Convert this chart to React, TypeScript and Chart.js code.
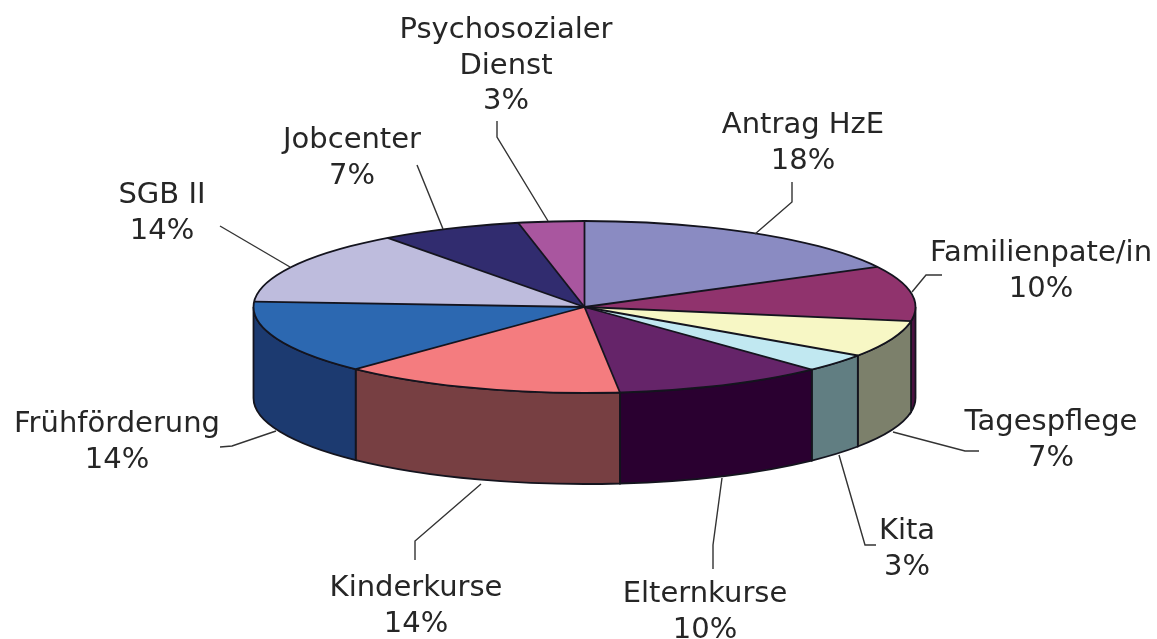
import React, { useEffect, useRef } from "react";
import { Chart, registerables } from "chart.js";

Chart.register(...registerables);

const categories = ["Antrag HzE", "Familienpate/in", "Tagespflege", "Kita", "Elternkurse", "Kinderkurse", "Frühförderung", "SGB II", "Jobcenter", "Psychosozialer Dienst"];
// Percentages printed beside the slices
const printedPercent = [18, 10, 7, 3, 10, 14, 14, 14, 7, 3];
const sliceShares = [17.2, 10.3, 6.9, 3.4, 10.3, 13.8, 13.8, 13.8, 6.9, 3.2];
const topColors = ["#8A8BC2", "#90336D", "#F7F7C5", "#C1E8F1", "#652469", "#F47C7F", "#2C68B1", "#BEBCDD", "#312C6F", "#A9569F"];
const wallColors = ["#45465F", "#4A1140", "#7C806B", "#617E82", "#2A0030", "#773F42", "#1C3A70", "#5F5E6E", "#181637", "#552B50"];

const labelLines = [["Antrag HzE"], ["Familienpate/in"], ["Tagespflege"], ["Kita"], ["Elternkurse"], ["Kinderkurse"], ["Frühförderung"], ["SGB II"], ["Jobcenter"], ["Psychosozialer", "Dienst"]];
// centre x and first-line baseline of each label
const labelAnchors = [[803, 133], [1041, 261], [1051, 430], [907, 539], [705, 602], [416, 596], [117, 432], [162, 203], [352, 148], [506, 38]];
const leaders = [
  [[792, 182], [792, 202], [755, 234]],
  [[942, 275], [926, 275], [912, 292]],
  [[893, 432], [965, 451], [979, 451]],
  [[839, 455], [865, 545], [876, 545]],
  [[722, 478], [713, 545], [713, 569]],
  [[481, 484], [415, 541], [415, 560]],
  [[276, 431], [232, 446], [220, 447]],
  [[290, 267], [220, 226]],
  [[417, 165], [443, 229]],
  [[497, 121], [497, 137], [548, 221]],
];

const CX = 584.5, CY = 307, RX = 331, RY = 86, DEPTH = 91;
const EDGE = "#14141e";

const piePlugin = {
  id: "tiltedPie",
  beforeDatasetsDraw(chart: any) {
    const ctx = chart.ctx;
    const arcs = chart.getDatasetMeta(0).data;
    const first = arcs[0];
    const R = first.outerRadius;
    ctx.save();
    ctx.lineWidth = 1.8;
    ctx.strokeStyle = EDGE;
    arcs.forEach((a: any, i: number) => {
      const s = Math.max(a.startAngle, 0);
      const e = Math.min(a.endAngle, Math.PI);
      if (e <= s) return;
      ctx.beginPath();
      ctx.ellipse(CX, CY, RX, RY, 0, s, e, false);
      ctx.ellipse(CX, CY + DEPTH, RX, RY, 0, e, s, true);
      ctx.closePath();
      ctx.fillStyle = wallColors[i];
      ctx.fill();
      ctx.stroke();
    });
    ctx.restore();
    ctx.save();
    ctx.translate(CX, CY);
    ctx.scale(RX / R, RY / R);
    ctx.translate(-first.x, -first.y);
  },
  afterDatasetsDraw(chart: any) {
    const ctx = chart.ctx;
    ctx.restore();
    const arcs = chart.getDatasetMeta(0).data;
    ctx.save();
    ctx.lineWidth = 1.8;
    ctx.strokeStyle = EDGE;
    arcs.forEach((a: any) => {
      ctx.beginPath();
      ctx.moveTo(CX, CY);
      ctx.lineTo(CX + RX * Math.cos(a.startAngle), CY + RY * Math.sin(a.startAngle));
      ctx.stroke();
    });
    ctx.beginPath();
    ctx.ellipse(CX, CY, RX, RY, 0, 0, Math.PI * 2);
    ctx.stroke();

    ctx.strokeStyle = "#333333";
    ctx.lineWidth = 1.4;
    leaders.forEach((pts) => {
      ctx.beginPath();
      pts.forEach((p, k) => (k ? ctx.lineTo(p[0], p[1]) : ctx.moveTo(p[0], p[1])));
      ctx.stroke();
    });

    ctx.fillStyle = "#262626";
    ctx.font = '29px "DejaVu Sans"';
    ctx.textAlign = "center";
    ctx.textBaseline = "alphabetic";
    labelLines.forEach((lines, i) => {
      const [x, y] = labelAnchors[i];
      [...lines, printedPercent[i] + "%"].forEach((t, k) => ctx.fillText(t, x, y + k * 35.5));
    });
    ctx.restore();
  },
};

export default function App() {
  const ref = useRef<HTMLCanvasElement>(null);
  useEffect(() => {
    const chart = new Chart(ref.current!, {
      type: "pie",
      data: {
        labels: categories,
        datasets: [{ data: sliceShares, backgroundColor: topColors, borderWidth: 0 }],
      },
      options: {
        animation: false,
        responsive: false,
        layout: { padding: 0 },
        plugins: { legend: { display: false }, tooltip: { enabled: false } },
      },
      plugins: [piePlugin],
    } as any);
    return () => chart.destroy();
  }, []);
  return (
    <canvas
      ref={ref}
      width={1157}
      height={639}
      style={{ position: "fixed", left: 0, top: 0, width: 1157, height: 639, background: "#fff" }}
    />
  );
}
